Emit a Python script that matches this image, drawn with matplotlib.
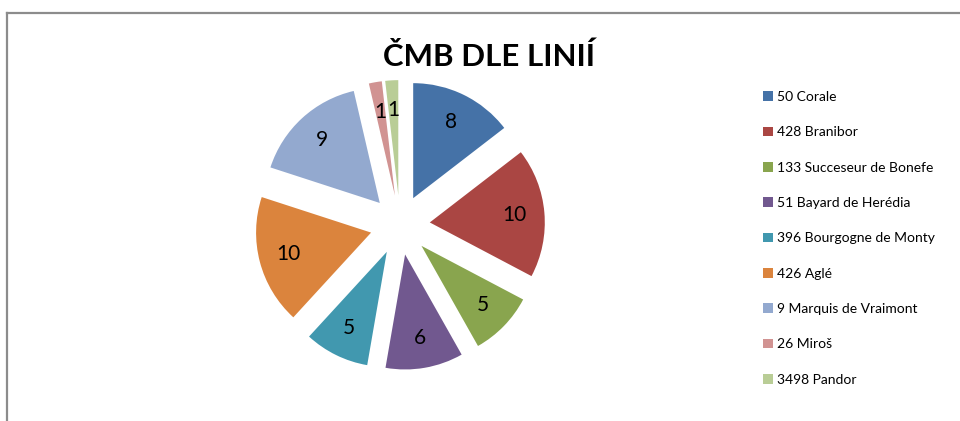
"""CMB dle linii - kolacovy graf s vysunutymi vysecemi."""
import matplotlib
matplotlib.use("Agg")
import matplotlib.pyplot as plt
from matplotlib.lines import Line2D

plt.rcParams["font.family"] = ["Lato", "DejaVu Sans"]

linie = ["50 Corale", "428 Branibor", "133 Succeseur de Bonefe",
         "51 Bayard de Herédia", "396 Bourgogne de Monty", "426 Aglé",
         "9 Marquis de Vraimont", "26 Miroš", "3498 Pandor"]
pocty = [8, 10, 5, 6, 5, 10, 9, 1, 1]
barvy = ["#4572A7", "#AA4643", "#89A54E", "#71588F", "#4198AF",
         "#DB843D", "#93A9CF", "#D19392", "#B9CD96"]

W, H = 960, 421
fig = plt.figure(figsize=(W / 100, H / 100), dpi=100)

# stred kolace (400, 225) px, polomer 115 px
r_px, cx, cy, lim = 115, 400, 225, 1.6
side = 2 * lim * r_px
ax = fig.add_axes([(cx - side / 2) / W, (H - cy - side / 2) / H, side / W, side / H])

wedges, texts = ax.pie(pocty, labels=[str(v) for v in pocty], colors=barvy,
                       startangle=90, counterclock=False,
                       explode=[0.26] * len(pocty), labeldistance=0.74,
                       wedgeprops=dict(linewidth=0),
                       textprops=dict(fontsize=15, ha="center", va="center"))
ax.set_xlim(-lim, lim)
ax.set_ylim(-lim, lim)
ax.set_aspect("equal")
ax.axis("off")

fig.text(489 / W, 1 - 57 / H, "ČMB DLE LINIÍ", ha="center", va="center",
         fontsize=22.5, fontweight="bold")

fig.legend(wedges, linie, loc="upper left", bbox_to_anchor=(763 / W, 1 - 91 / H),
           frameon=False, fontsize=10, handlelength=0.7, handleheight=0.7,
           handletextpad=0.3, labelspacing=1.68, borderpad=0, borderaxespad=0)

# sedy ramecek nahore a vlevo
fig.add_artist(Line2D([7 / W, 1], [1 - 13 / H] * 2, color="#8c8c8c", lw=1.6,
                      transform=fig.transFigure))
fig.add_artist(Line2D([7 / W] * 2, [0, 1 - 13 / H], color="#8c8c8c", lw=1.6,
                      transform=fig.transFigure))

fig.savefig("out.png", dpi=100)
